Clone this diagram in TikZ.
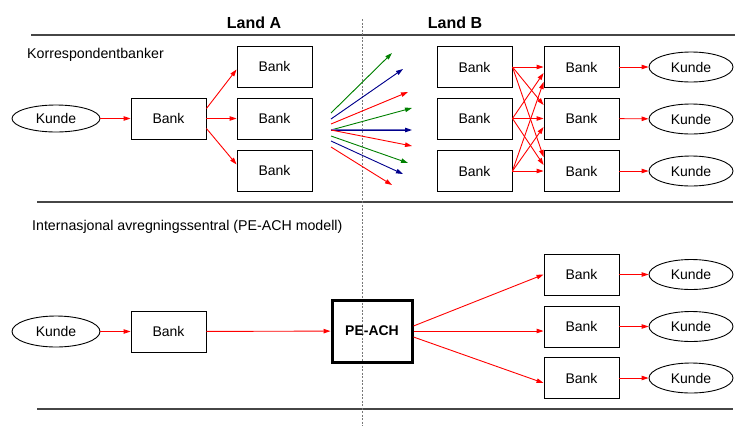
\documentclass[tikz,border=0pt]{standalone}
\usepackage{fontspec}
\setmainfont{Liberation Sans}
\usetikzlibrary{arrows.meta,shapes.geometric,calc}
\definecolor{rulegray}{RGB}{70,70,70}
\definecolor{dashgray}{RGB}{120,120,120}
\definecolor{fgreen}{RGB}{0,128,0}
\definecolor{fnavy}{RGB}{0,0,140}
\definecolor{fnavylight}{RGB}{100,100,190}
\begin{document}
\begin{tikzpicture}[x=1pt,y=-1pt,
  txt/.style={font=\fontsize{14.2}{16}\selectfont,inner sep=0pt},
  hdr/.style={font=\fontsize{16}{18}\selectfont\bfseries,inner sep=0pt},
  bankbox/.style={draw=black,line width=0.9pt,minimum width=75pt,minimum height=41pt,inner sep=0pt,font=\fontsize{14}{16}\selectfont},
  kundeell/.style={draw=black,ellipse,line width=0.9pt,minimum width=86pt,minimum height=30pt,inner sep=0pt,font=\fontsize{14}{16}\selectfont},
  achbox/.style={draw=black,line width=3pt,minimum width=80pt,minimum height=62pt,inner sep=0pt,font=\fontsize{14}{16}\selectfont\bfseries},
  tip/.style={-{Triangle[length=7pt,width=4.5pt]}},
  redarr/.style={draw=red,line width=0.9pt,tip},
  fanarr/.style={line width=0.9pt,tip},
  rule/.style={draw=rulegray,line width=1.1pt},
]
\useasboundingbox (0,0) rectangle (735,426);

% headers and rules
\node[hdr] (landA) at (254,23) {Land A};
\node[hdr] (landB) at (455,23) {Land B};
\coordinate (r1a) at (31,35);  \coordinate (r1b) at (735,35);
\coordinate (r2a) at (37,202); \coordinate (r2b) at (733,202);
\coordinate (r3a) at (37,409); \coordinate (r3b) at (733,409);
\draw[rule] (r1a) -- (r1b);
\draw[rule] (r2a) -- (r2b);
\draw[rule] (r3a) -- (r3b);
\coordinate (dv1) at (362,19); \coordinate (dv2) at (362,426);
\draw[draw=dashgray,line width=0.7pt,dash pattern=on 2pt off 1.5pt] (dv1) -- (dv2);

\node[txt,anchor=base west] (t1) at (27,58) {Korrespondentbanker};
\node[txt,anchor=base west] (t2) at (32,230) {Internasjonal avregningssentral (PE-ACH modell)};

% ---- top section ----
\node[kundeell,minimum height=27pt,minimum width=88pt] (kA) at (56,118.5) {Kunde};
\node[bankbox] (bA) at (168.5,118.5) {Bank};
\node[bankbox] (bA1) at (274.5,66.5) {Bank};
\node[bankbox] (bA2) at (274.5,118.5) {Bank};
\node[bankbox] (bA3) at (274.5,170.5) {Bank};

\draw[redarr] (kA) -- (bA);
\draw[redarr] ($(bA.east)+(0,-10)$) -- ($(bA1.west)+(0,3)$);
\draw[redarr] (bA.east) -- (bA2.west);
\draw[redarr] ($(bA.east)+(0,10)$) -- ($(bA3.west)+(0,-6)$);

% fan
\coordinate (f0) at (331,130);
\coordinate (fs1) at (331,113); \coordinate (fe1) at (392,53);
\coordinate (fs2) at (331,119); \coordinate (fe2) at (403,69);
\coordinate (fs3) at (331,124); \coordinate (fe3) at (408,92);
\coordinate (fe4) at (412,108);
\coordinate (fe5) at (412,130);
\coordinate (fe6) at (412,146);
\coordinate (fs7) at (331,136); \coordinate (fe7) at (408,163);
\coordinate (fs8) at (331,141); \coordinate (fe8) at (403,174);
\coordinate (fs9) at (331,147); \coordinate (fe9) at (392,185);
\draw[fanarr,draw=fgreen,fill=fgreen] (fs1) -- (fe1);
\draw[fanarr,draw=fnavy,fill=fnavy] (fs2) -- (fe2);
\draw[fanarr,draw=red,fill=red] (fs3) -- (fe3);
\draw[fanarr,draw=fgreen] (f0) -- (fe4);
\draw[line width=1.8pt,draw=fnavylight] (f0) -- ($(fe5)+(-6,0)$);
\draw[fanarr,draw=fnavy] (f0) -- (fe5);
\draw[fanarr,draw=red] (f0) -- (fe6);
\draw[fanarr,draw=fgreen] (fs7) -- (fe7);
\draw[fanarr,draw=fnavy] (fs8) -- (fe8);
\draw[fanarr,draw=red] (fs9) -- (fe9);

% Land B
\node[bankbox] (bB1) at (474.5,67) {Bank};
\node[bankbox] (bB2) at (474.5,118.5) {Bank};
\node[bankbox] (bB3) at (474.5,171) {Bank};
\node[bankbox] (bC1) at (581.5,67) {Bank};
\node[bankbox] (bC2) at (581.5,118.5) {Bank};
\node[bankbox] (bC3) at (581.5,171) {Bank};
\node[kundeell,minimum width=84pt] (kC1) at (691,67) {Kunde};
\node[kundeell,minimum width=84pt] (kC2) at (691,119) {Kunde};
\node[kundeell,minimum width=84pt] (kC3) at (691,171) {Kunde};

\draw[redarr] (bB1.east) -- (bC1.west);
\draw[redarr] (bB1.east) -- ($(bC2.west)+(0,-13.5)$);
\draw[redarr] (bB1.east) -- ($(bC3.west)+(0,-14)$);
\draw[redarr] (bB2.east) -- ($(bC1.west)+(0,6)$);
\draw[redarr] (bB2.east) -- (bC2.west);
\draw[redarr] (bB2.east) -- ($(bC3.west)+(0,-6)$);
\draw[redarr] (bB3.east) -- ($(bC1.west)+(0,15)$);
\draw[redarr] (bB3.east) -- ($(bC2.west)+(0,8.5)$);
\draw[redarr] (bB3.east) -- (bC3.west);

\draw[redarr] (bC1) -- (kC1);
\draw[redarr] (bC2) -- (kC2);
\draw[redarr] (bC3) -- (kC3);

% ---- bottom section ----
\node[kundeell,minimum height=31pt,minimum width=88pt] (kD) at (56,331.5) {Kunde};
\node[bankbox] (bD) at (168.5,331.5) {Bank};
\node[achbox] (ach) at (372,331) {PE-ACH};
\node[bankbox] (bE1) at (581.5,274.5) {Bank};
\node[bankbox] (bE2) at (581.5,326.5) {Bank};
\node[bankbox] (bE3) at (581.5,378) {Bank};
\node[kundeell,minimum width=84pt] (kE1) at (691,274.5) {Kunde};
\node[kundeell,minimum width=84pt] (kE2) at (691,326.5) {Kunde};
\node[kundeell,minimum width=84pt] (kE3) at (691,378) {Kunde};

\draw[redarr] (kD) -- (bD);
\draw[redarr] (bD) -- (ach);
\draw[redarr] ($(ach.east)+(0,-5)$) -- (bE1.west);
\draw[redarr] (ach.east) -- ($(bE2.west)+(0,4.5)$);
\draw[redarr] ($(ach.east)+(0,6)$) -- ($(bE3.west)+(0,5)$);
\draw[redarr] (bE1) -- (kE1);
\draw[redarr] (bE2) -- (kE2);
\draw[redarr] (bE3) -- (kE3);
\end{tikzpicture}
\end{document}
